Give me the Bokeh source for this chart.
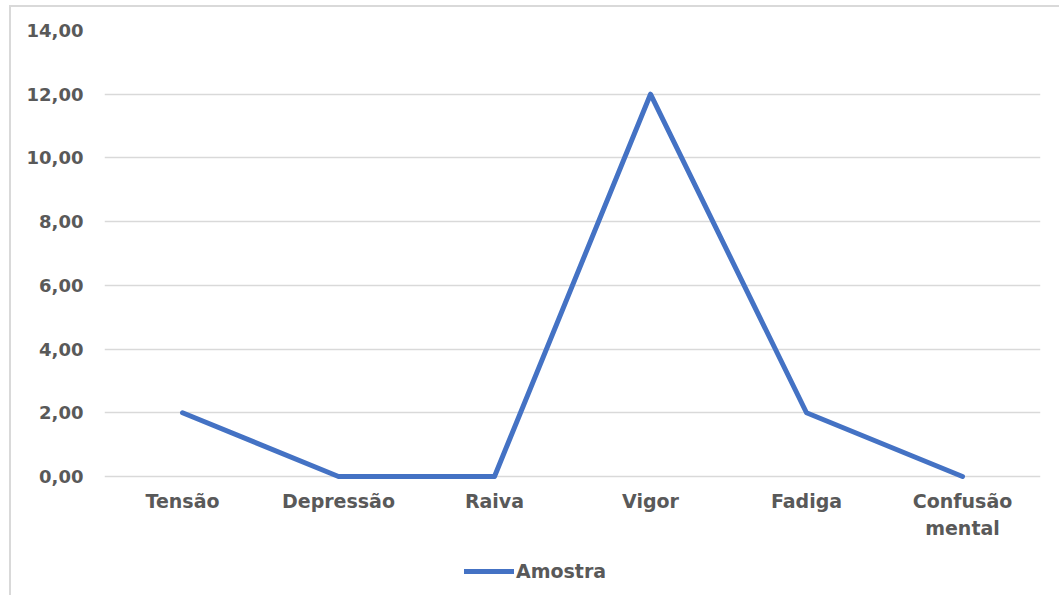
from bokeh.plotting import figure
from bokeh.models import FixedTicker, Legend, LegendItem
from bokeh.embed import file_html
from bokeh.resources import INLINE

categories = ["Tensão", "Depressão", "Raiva", "Vigor", "Fadiga", "Confusão\nmental"]
amostra = [2, 0, 0, 12, 2, 0]
y_ticks = [0, 2, 4, 6, 8, 10, 12, 14]
y_tick_labels = ["0,00", "2,00", "4,00", "6,00", "8,00", "10,00", "12,00", "14,00"]
series_name = "Amostra"

p = figure(width=1050, height=590, x_range=categories, y_range=(-3.8, 14),
           output_backend="svg", toolbar_location=None,
           min_border_left=93, min_border_right=21, min_border_top=23, min_border_bottom=0)
p.margin = (5, 0, 0, 9)
p.styles = {"border-left": "2px solid #d9d9d9", "border-top": "2px solid #d9d9d9"}
p.outline_line_color = None
p.background_fill_color = "white"
p.border_fill_color = "white"

r = p.line(x=categories, y=amostra, line_color="#4472C4", line_width=5, line_join="round", line_cap="round")

p.yaxis.ticker = FixedTicker(ticks=y_ticks)
p.yaxis.major_label_overrides = {t: s for t, s in zip(y_ticks, y_tick_labels)}
p.xaxis.fixed_location = 0
for ax in (p.xaxis[0], p.yaxis[0]):
    ax.axis_line_color = None
    ax.major_tick_line_color = None
    ax.minor_tick_line_color = None
    ax.major_label_text_font = "DejaVu Sans"
    ax.major_label_text_font_style = "bold"
    ax.major_label_text_color = "#595959"
p.yaxis.major_label_text_font_size = "18px"
p.xaxis.major_label_text_font_size = "19px"
p.yaxis.major_label_standoff = 15
p.xaxis.major_label_standoff = 8
p.xgrid.grid_line_color = None
p.ygrid.grid_line_color = "#d9d9d9"
p.ygrid.grid_line_width = 1.5

legend = Legend(items=[LegendItem(label=series_name, renderers=[r])],
                location=(360, 15), orientation="horizontal",
                label_text_font="DejaVu Sans", label_text_font_style="bold",
                label_text_font_size="19px", label_text_color="#595959",
                glyph_width=50, label_standoff=2, border_line_color=None,
                background_fill_alpha=0, padding=4, margin=0)
p.add_layout(legend, "center")

open("out.html", "w").write(file_html(p, INLINE))
